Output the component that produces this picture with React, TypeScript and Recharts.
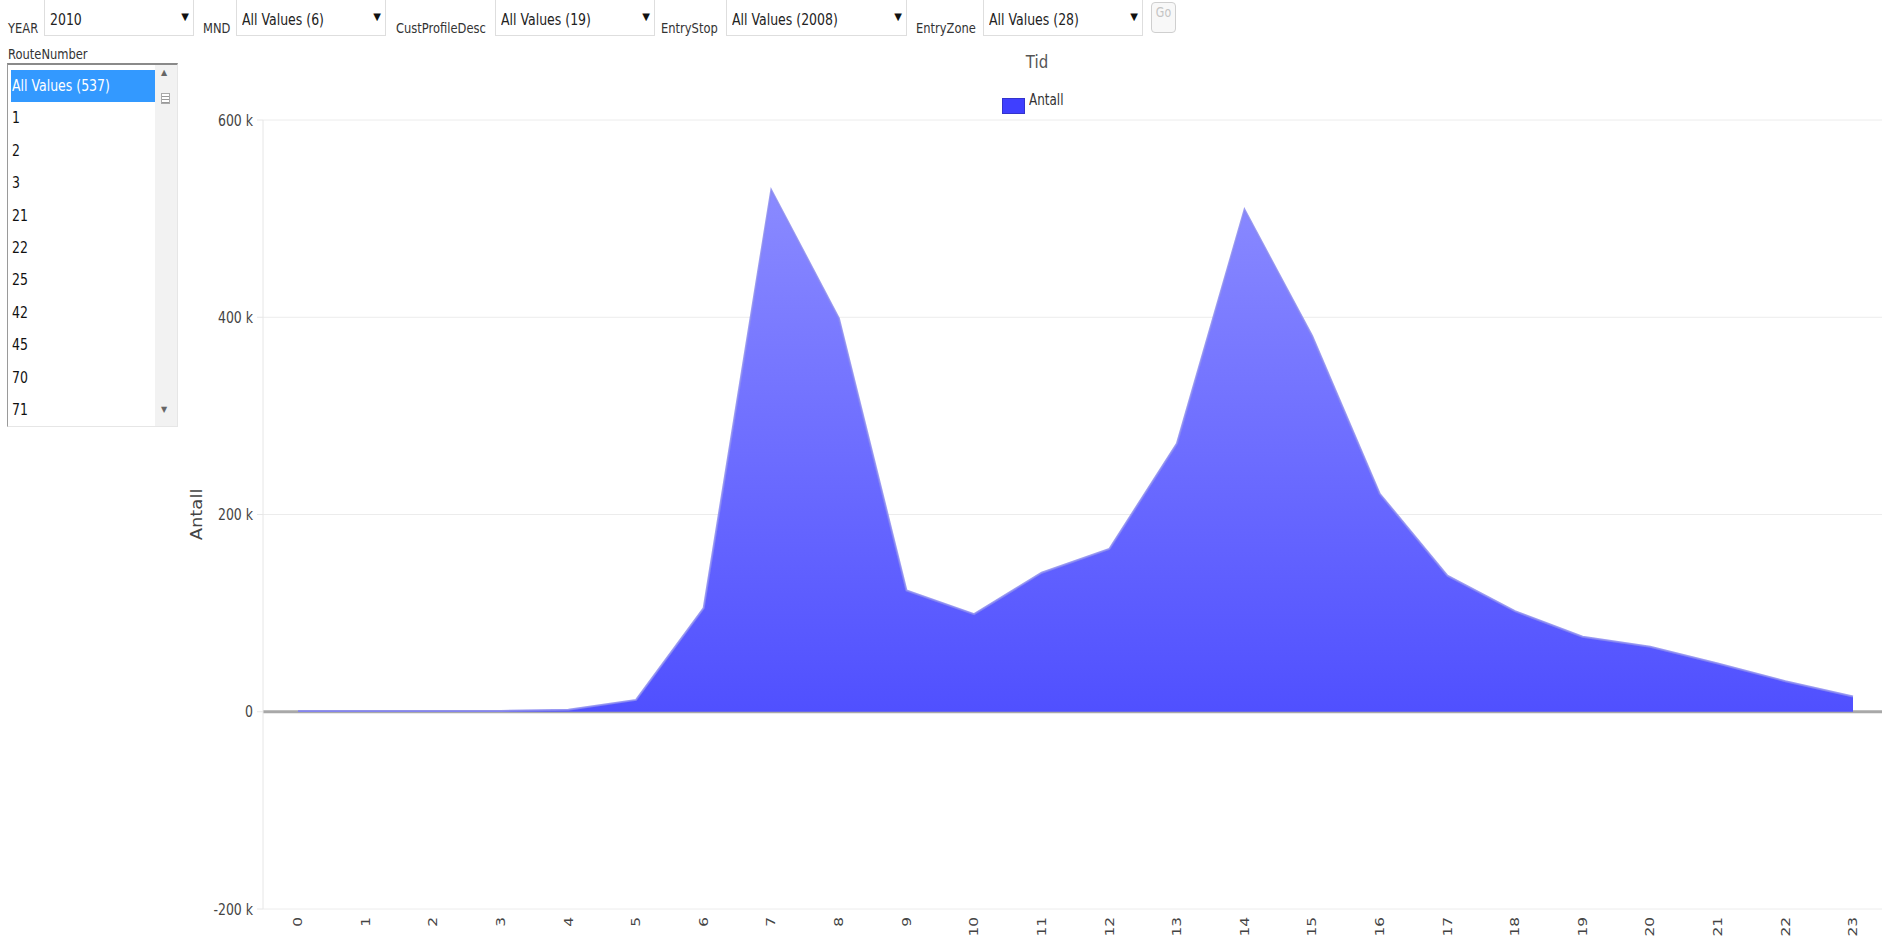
import {
  AreaChart,
  Area,
  XAxis,
  YAxis,
  CartesianGrid,
  ReferenceLine,
} from "recharts";

// hours of the day (Tid) and number of trips (Antall)
const HOURS = [
  "0", "1", "2", "3", "4", "5", "6", "7", "8", "9", "10", "11",
  "12", "13", "14", "15", "16", "17", "18", "19", "20", "21", "22", "23",
];
const ANTALL = [
  800, 800, 800, 800, 2000, 12000, 105000, 529000, 399000, 123000, 99000, 141000,
  165000, 272000, 509000, 381000, 221000, 138000, 102000, 76000, 66000, 49000, 31000, 15500,
];
const Y_TICKS = [-200000, 0, 200000, 400000, 600000];

const FILTER_LABELS = ["YEAR", "MND", "CustProfileDesc", "EntryStop", "EntryZone"];
const FILTER_VALUES = ["2010", "All Values (6)", "All Values (19)", "All Values (2008)", "All Values (28)"];
const ROUTES = ["All Values (537)", "1", "2", "3", "21", "22", "25", "42", "45", "70", "71"];

// layout of the filter bar: label x, select left, select width
const FILTER_LAYOUT = [
  [8, 44, 150],
  [203, 236, 150],
  [396, 495, 160],
  [661, 726, 181],
  [916, 983, 160],
];

const FONT = '"DejaVu Sans", Verdana, sans-serif';
const STRETCH = 1.28;

const data = HOURS.map((h, i) => ({ hour: h, antall: ANTALL[i] }));

function fmtK(v: number): string {
  if (v === 0) return "0";
  return `${v / 1000} k`;
}

const Tall = ({ children, s = STRETCH }: { children: React.ReactNode; s?: number }) => (
  <span style={{ display: "inline-block", transform: `scaleY(${s})`, transformOrigin: "center" }}>
    {children}
  </span>
);

const YTick = (props: any) => {
  const { x, y, payload } = props;
  return (
    <text
      x={0}
      y={0}
      transform={`translate(${x},${y}) scale(1,${STRETCH})`}
      textAnchor="end"
      dy="0.35em"
      fill="#444"
      fontSize={12.5}
      fontFamily={FONT}
    >
      {fmtK(payload.value)}
    </text>
  );
};

const XTick = (props: any) => {
  const { x, y, payload } = props;
  return (
    <text
      x={0}
      y={0}
      transform={`translate(${x},${y}) rotate(-90) scale(${STRETCH},1)`}
      textAnchor="end"
      dy="0.35em"
      fill="#444"
      fontSize={12}
      fontFamily={FONT}
    >
      {payload.value}
    </text>
  );
};

const YLabel = (props: any) => {
  const vb = props.viewBox || { x: 0, y: 0, width: 0, height: 0 };
  const cx = vb.x + 197;
  const cy = vb.y + vb.height / 2;
  return (
    <text
      x={0}
      y={0}
      transform={`translate(${cx},${cy}) rotate(-90) scale(1.2,1)`}
      textAnchor="middle"
      dy="0.35em"
      fill="#444"
      fontSize={15}
      fontFamily={FONT}
    >
      Antall
    </text>
  );
};

function FilterBar() {
  return (
    <>
      {FILTER_LABELS.map((label, i) => {
        const [lx, sx, sw] = FILTER_LAYOUT[i];
        return (
          <div key={label}>
            <div
              style={{
                position: "absolute",
                left: lx,
                top: 20,
                fontSize: 11.5,
                lineHeight: "16px",
                color: "#333",
                whiteSpace: "nowrap",
              }}
            >
              <Tall>{label}</Tall>
            </div>
            <div
              style={{
                position: "absolute",
                left: sx,
                top: -2,
                width: sw,
                height: 38,
                boxSizing: "border-box",
                border: "1px solid #dedede",
                background: "#fff",
              }}
            >
              <div
                style={{
                  position: "absolute",
                  left: 5,
                  top: 12,
                  fontSize: 12.5,
                  lineHeight: "18px",
                  color: "#222",
                  whiteSpace: "nowrap",
                }}
              >
                <Tall>{FILTER_VALUES[i]}</Tall>
              </div>
              <div
                style={{
                  position: "absolute",
                  right: 4,
                  top: 12,
                  fontSize: 10,
                  lineHeight: "12px",
                  color: "#111",
                }}
              >
                ▼
              </div>
            </div>
          </div>
        );
      })}
      <div
        style={{
          position: "absolute",
          left: 1151,
          top: 2,
          width: 25,
          height: 31,
          boxSizing: "border-box",
          border: "1px solid #cfcfcf",
          borderRadius: 4,
          background: "#f8f8f8",
          color: "#c4c4c4",
          fontSize: 11,
          textAlign: "center",
          lineHeight: "20px",
        }}
      >
        <Tall>Go</Tall>
      </div>
    </>
  );
}

function RouteList() {
  return (
    <>
      <div
        style={{
          position: "absolute",
          left: 8,
          top: 46,
          fontSize: 11.5,
          lineHeight: "16px",
          color: "#333",
        }}
      >
        <Tall>RouteNumber</Tall>
      </div>
      <div
        style={{
          position: "absolute",
          left: 7,
          top: 63,
          width: 171,
          height: 364,
          boxSizing: "border-box",
          borderTop: "2px solid #8a8a8a",
          borderLeft: "1px solid #9a9a9a",
          borderRight: "1px solid #e6e6e6",
          borderBottom: "1px solid #e6e6e6",
          background: "#fff",
          overflow: "hidden",
        }}
      >
        {ROUTES.map((r, i) => (
          <div
            key={r}
            style={{
              position: "absolute",
              left: i === 0 ? 3 : 0,
              top: 5 + i * 32.4,
              width: i === 0 ? 144 : 146,
              height: 32,
              background: i === 0 ? "#3399ff" : "transparent",
              color: i === 0 ? "#fff" : "#111",
              fontSize: 12.5,
              lineHeight: "32px",
              paddingLeft: i === 0 ? 1 : 4,
              boxSizing: "border-box",
              whiteSpace: "nowrap",
            }}
          >
            <Tall>{r}</Tall>
          </div>
        ))}
        <div
          style={{
            position: "absolute",
            left: 147,
            top: 0,
            width: 22,
            height: 362,
            background: "#f2f2f2",
          }}
        >
          <div style={{ position: "absolute", left: 6, top: 3, fontSize: 8, color: "#666" }}>▲</div>
          <div
            style={{
              position: "absolute",
              left: 6,
              top: 28,
              width: 9,
              height: 11,
              boxSizing: "border-box",
              border: "1px solid #aaa",
              background:
                "repeating-linear-gradient(#fff 0px, #fff 2px, #999 2px, #999 3px)",
            }}
          />
          <div style={{ position: "absolute", left: 6, top: 340, fontSize: 8, color: "#666" }}>▼</div>
        </div>
      </div>
    </>
  );
}

export default function App() {
  return (
    <div
      style={{
        position: "absolute",
        left: 0,
        top: 0,
        width: 1882,
        height: 941,
        overflow: "hidden",
        background: "#fff",
        fontFamily: FONT,
      }}
    >
      <div style={{ position: "absolute", left: 0, top: 0 }}>
        <AreaChart
          width={1882}
          height={941}
          data={data}
          margin={{ top: 120, right: 0, bottom: 0, left: 0 }}
        >
          <defs>
            <linearGradient id="antallFill" x1="0" y1="0" x2="0" y2="1">
              <stop offset="0%" stopColor="#8a8aff" />
              <stop offset="100%" stopColor="#5050ff" />
            </linearGradient>
          </defs>
          <CartesianGrid vertical={false} stroke="#ececec" />
          <XAxis
            dataKey="hour"
            type="category"
            height={32}
            padding={{ left: 35, right: 29 }}
            axisLine={false}
            tickLine={false}
            tickSize={6}
            tickMargin={2}
            interval={0}
            tick={<XTick />}
          />
          <YAxis
            width={263}
            domain={[-200000, 600000]}
            ticks={Y_TICKS}
            interval={0}
            axisLine={{ stroke: "#e6e6e6" }}
            tickLine={{ stroke: "#e6e6e6" }}
            tickSize={6}
            tickMargin={4}
            tick={<YTick />}
            label={{ content: (p: any) => <YLabel {...p} /> }}
          />
          <ReferenceLine y={0} stroke="#a8a8a8" strokeWidth={3} zIndex={50} />
          <Area
            type="linear"
            dataKey="antall"
            baseValue={0}
            stroke="#8a8af0"
            strokeOpacity={0.85}
            strokeWidth={2}
            fill="url(#antallFill)"
            fillOpacity={1}
            dot={false}
            activeDot={false}
            isAnimationActive={false}
          />
        </AreaChart>
      </div>

      <div
        style={{
          position: "absolute",
          left: 1012,
          top: 52,
          width: 50,
          textAlign: "center",
          fontSize: 15,
          lineHeight: "20px",
          color: "#555",
        }}
      >
        <Tall s={1.2}>Tid</Tall>
      </div>
      <div
        style={{
          position: "absolute",
          left: 1002,
          top: 98,
          width: 23,
          height: 16,
          boxSizing: "border-box",
          background: "#3f3fff",
          border: "1px solid #3333cc",
        }}
      />
      <div
        style={{
          position: "absolute",
          left: 1029,
          top: 92,
          fontSize: 12,
          lineHeight: "16px",
          color: "#333",
        }}
      >
        <Tall>Antall</Tall>
      </div>

      <FilterBar />
      <RouteList />
    </div>
  );
}
